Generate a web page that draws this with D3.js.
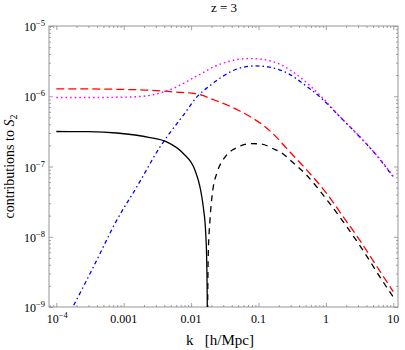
<!DOCTYPE html>
<html><head><meta charset="utf-8">
<script src="https://cdn.jsdelivr.net/npm/d3@7"></script>
<style>
body{margin:0;background:#fff}
text{font-family:"Liberation Serif","Times New Roman",serif;fill:#000}
</style>
</head><body>
<svg id="chart" width="405" height="350"></svg>
<script>
// ---- data ----
const title = "z = 3";
const xTickValues = [1e-4, 1e-3, 1e-2, 1e-1, 1, 10];
const xTickLabels = [["10","−4"], ["0.001"], ["0.01"], ["0.1"], ["1"], ["10"]];
const yTickValues = [1e-9, 1e-8, 1e-7, 1e-6, 1e-5];
const yTickLabels = [["10","−9"], ["10","−8"], ["10","−7"], ["10","−6"], ["10","−5"]];

// red dashed
const redK = [1e-4, 3e-4, 1e-3, 0.00245, 0.0057, 0.01143, 0.0226, 0.0501, 0.0887, 0.12, 0.157, 0.277, 0.49, 1.03, 1.81, 3.21, 5.67, 10];
const redV = [1.27e-6, 1.27e-6, 1.25e-6, 1.22e-6, 1.15e-6, 1.09e-6, 8.77e-7, 6.32e-7, 4.65e-7, 3.8e-7, 3.05e-7, 1.70e-7, 9.5e-8, 4.1e-8, 1.92e-8, 8.8e-9, 3.8e-9, 1.65e-9];
// magenta dotted (total)
const magK = [1e-4, 3e-4, 1e-3, 0.00138, 0.00245, 0.00611, 0.01143, 0.0284, 0.0706, 0.1115, 0.221, 0.4375, 0.867, 1.72, 3.40, 7.53, 10];
const magV = [9.6e-7, 9.6e-7, 9.7e-7, 9.8e-7, 1.03e-6, 1.36e-6, 1.88e-6, 2.92e-6, 3.44e-6, 3.36e-6, 2.77e-6, 1.79e-6, 9.77e-7, 4.81e-7, 2.49e-7, 1.04e-7, 7.2e-8];
// blue dash-dot
const blueK = [1e-4, 1.75e-4, 3.54e-4, 7.87e-4, 0.00156, 0.00346, 0.00766, 0.0128, 0.018, 0.0284, 0.0501, 0.0887, 0.14, 0.277, 0.49, 0.867, 1.53, 2.70, 5.36, 10];
const blueV = [4e-10, 1e-9, 3.7e-9, 1.71e-8, 5.1e-8, 1.9e-7, 5.36e-7, 1.03e-6, 1.36e-6, 1.88e-6, 2.48e-6, 2.70e-6, 2.61e-6, 2.10e-6, 1.44e-6, 9.27e-7, 5.36e-7, 3.10e-7, 1.53e-7, 7.1e-8];
// black solid (positive part)
const blackK = [1e-4, 3e-4, 7.87e-4, 0.00245, 0.00434, 0.00766, 0.01143, 0.01356, 0.01517, 0.01648, 0.01704, 0.01739, 0.0175];
const blackV = [3.15e-7, 3.13e-7, 3.0e-7, 2.58e-7, 2.24e-7, 1.53e-7, 8.83e-8, 5.1e-8, 2.65e-8, 1.12e-8, 4.6e-9, 1e-9, 1e-10];
// black dashed (negative part, absolute value)
const negK = [0.01755, 0.01762, 0.01798, 0.01905, 0.02133, 0.0240, 0.0318, 0.0357, 0.0448, 0.0793, 0.1115, 0.176, 0.208, 0.328, 0.519, 1.03, 2.04, 3.59, 6.35, 10];
const negV = [1e-10, 1e-9, 5.74e-9, 1.71e-8, 5.1e-8, 7.92e-8, 1.36e-7, 1.55e-7, 1.8e-7, 2.12e-7, 2.08e-7, 1.74e-7, 1.62e-7, 1.13e-7, 7.5e-8, 3.37e-8, 1.39e-8, 6.3e-9, 2.67e-9, 1.38e-9];

// ---- layout ----
const L = 49, R = 398, T = 26, B = 307;
const svg = d3.select("#chart");
const x = d3.scaleLog().domain([Math.pow(10, -4.1083), Math.pow(10, 1.0697)]).range([L, R]);
const y = d3.scaleLog().domain([1e-9, 1e-5]).range([B, T]);

svg.append("defs").append("clipPath").attr("id", "clip")
  .append("rect").attr("x", L).attr("y", T).attr("width", R - L).attr("height", B - T);

const axisColor = "#8a8a8a";

// minor ticks
function minors(lo, hi) {
  const out = [];
  for (let e = Math.floor(Math.log10(lo)); e <= Math.ceil(Math.log10(hi)); e++) {
    for (let m = 2; m <= 9; m++) {
      const v = m * Math.pow(10, e);
      if (v > lo && v < hi) out.push(v);
    }
  }
  return out;
}
const xMin = minors(x.domain()[0], x.domain()[1]);
const yMin = minors(1e-9, 1e-5);
const xMaj = xTickValues, yMaj = yTickValues;

function styleAxis(g) {
  g.select(".domain").remove();
  g.selectAll("line").attr("stroke", axisColor).attr("stroke-width", 0.8);
  g.selectAll("text").remove();
}
// bottom
svg.append("g").attr("transform", `translate(0,${B})`).call(d3.axisBottom(x).tickValues(xMaj).tickSize(-4)).call(styleAxis);
svg.append("g").attr("transform", `translate(0,${B})`).call(d3.axisBottom(x).tickValues(xMin).tickSize(-2)).call(styleAxis);
// top
svg.append("g").attr("transform", `translate(0,${T})`).call(d3.axisTop(x).tickValues(xMaj).tickSize(-4)).call(styleAxis);
svg.append("g").attr("transform", `translate(0,${T})`).call(d3.axisTop(x).tickValues(xMin).tickSize(-2)).call(styleAxis);
// left
svg.append("g").attr("transform", `translate(${L},0)`).call(d3.axisLeft(y).tickValues(yMaj).tickSize(-4)).call(styleAxis);
svg.append("g").attr("transform", `translate(${L},0)`).call(d3.axisLeft(y).tickValues(yMin).tickSize(-2)).call(styleAxis);
// right
svg.append("g").attr("transform", `translate(${R},0)`).call(d3.axisRight(y).tickValues(yMaj).tickSize(-4)).call(styleAxis);
svg.append("g").attr("transform", `translate(${R},0)`).call(d3.axisRight(y).tickValues(yMin).tickSize(-2)).call(styleAxis);

// frame
svg.append("rect").attr("x", L).attr("y", T).attr("width", R - L).attr("height", B - T)
  .attr("fill", "none").attr("stroke", axisColor).attr("stroke-width", 0.9);

// tick labels
function addLabel(t, parts) {
  t.append("tspan").text(parts[0]);
  if (parts.length > 1) t.append("tspan").attr("dy", -5).attr("font-size", 8.5).text(parts[1]);
}
xTickValues.forEach((v, i) => {
  const t = svg.append("text").attr("x", x(v) + (xTickLabels[i].length > 1 ? 1 : 0)).attr("y", 323)
    .attr("text-anchor", "middle").attr("font-size", 12);
  addLabel(t, xTickLabels[i]);
});
yTickValues.forEach((v, i) => {
  const t = svg.append("text").attr("x", 45).attr("y", y(v) + 5)
    .attr("text-anchor", "end").attr("font-size", 12);
  addLabel(t, yTickLabels[i]);
});

// title and axis labels
svg.append("text").attr("x", 224).attr("y", 12).attr("text-anchor", "middle").attr("font-size", 13).text(title);
svg.append("text").attr("x", 186).attr("y", 345).attr("font-size", 15)
  .style("white-space", "pre").text("k   [h/Mpc]");
const yl = svg.append("text").attr("transform", `translate(14,${(T + B) / 2}) rotate(-90)`)
  .attr("text-anchor", "middle").attr("font-size", 14);
yl.append("tspan").text("contributions to ");
yl.append("tspan").attr("font-style", "italic").text("S");
yl.append("tspan").attr("dy", 3).attr("font-size", 10).text("2");

// curves
const line = d3.line().x(d => x(d[0])).y(d => y(d[1])).curve(d3.curveMonotoneX);
const plot = svg.append("g").attr("clip-path", "url(#clip)");
function draw(ks, vs, color, dash, w) {
  plot.append("path").datum(ks.map((k, i) => [k, vs[i]]))
    .attr("d", line).attr("fill", "none").attr("stroke", color)
    .attr("stroke-width", w).attr("stroke-dasharray", dash);
}
draw(redK, redV, "#ff0000", "8,4", 1.3);
draw(blueK, blueV, "#0000ff", "4,3,1.5,3", 1.3);
draw(magK, magV, "#ff00ff", "1.6,3", 1.4);
draw(blackK, blackV, "#000000", null, 1.3);
draw(negK, negV, "#000000", "6,5", 1.3);
</script>
</body></html>
